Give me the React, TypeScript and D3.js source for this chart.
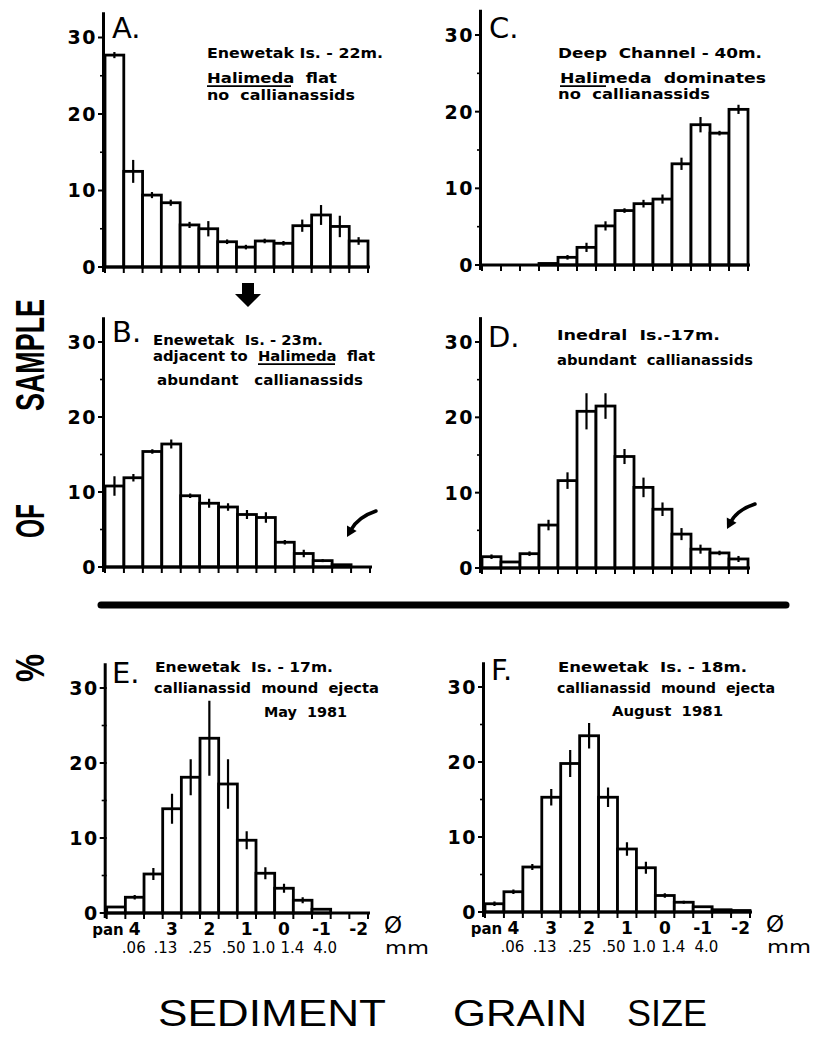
import React from "react";
import * as d3 from "d3";

// ---------- DATA ----------
const phiBins = ["pan", "4", "3.5", "3", "2.5", "2", "1.5", "1", "0.5", "0", "-0.5", "-1", "-1.5", "-2"];
const phiTickLabels = ["pan", "4", "3", "2", "1", "0", "-1", "-2"];
const mmTickLabels = [".06", ".13", ".25", ".50", "1.0", "1.4", "4.0"];
const mmTickPos = [1.45, 3.15, 5.0, 6.8, 8.4, 9.95, 11.7]; // in bin units from axis
const yMajorTicks = [0, 10, 20, 30];
const yMinorTicks = [5, 15, 25];

const valuesA = [27.7, 12.5, 9.4, 8.4, 5.5, 5.0, 3.3, 2.6, 3.4, 3.1, 5.4, 6.8, 5.3, 3.4];
const errA = [0.4, 1.5, 0.4, 0.4, 0.4, 1.0, 0.3, 0.3, 0.3, 0.3, 0.8, 1.3, 1.4, 0.5];

const valuesB = [10.8, 11.9, 15.4, 16.4, 9.5, 8.5, 8.0, 7.0, 6.6, 3.3, 1.8, 0.85, 0.3, 0];
const errB = [1.3, 0.5, 0.3, 0.6, 0.3, 0.6, 0.5, 0.6, 0.7, 0.3, 0.5, 0.2, 0, 0];

const valuesC = [0, 0, 0, 0.2, 1.0, 2.3, 5.1, 7.1, 8.0, 8.6, 13.2, 18.3, 17.2, 20.3];
const errC = [0, 0, 0, 0, 0.3, 0.6, 0.6, 0.3, 0.5, 0.6, 0.8, 1.0, 0.3, 0.6];

const valuesD = [1.5, 0.8, 1.9, 5.7, 11.6, 20.8, 21.5, 14.8, 10.7, 7.8, 4.5, 2.5, 2.0, 1.2];
const errD = [0.3, 0, 0.3, 0.7, 1.1, 2.4, 1.7, 1.0, 1.3, 0.9, 0.8, 0.6, 0.3, 0.4];

const valuesE = [0.8, 2.1, 5.2, 13.9, 18.1, 23.3, 17.2, 9.7, 5.3, 3.3, 1.7, 0.5, 0, 0];
const errE = [0, 0.3, 0.8, 2.0, 2.4, 5.0, 3.3, 1.2, 0.8, 0.6, 0.4, 0, 0, 0];

const valuesF = [1.1, 2.7, 6.0, 15.3, 19.8, 23.5, 15.3, 8.4, 5.9, 2.2, 1.3, 0.7, 0.3, 0.2];
const errF = [0.3, 0.3, 0.4, 1.1, 1.8, 1.7, 1.3, 0.9, 0.8, 0.3, 0.2, 0, 0, 0];

// ---------- LAYOUT ----------
const W = 823;
const H = 1037;
const FONT = "'DejaVu Sans', sans-serif";

type Note = { text: string; x: number; y: number; len: number; ul?: [number, number] };

const panels = [
  {
    key: "A", values: valuesA, errs: errA, x0: 105, x1: 368, y0: 267, y30: 37.5,
    letter: "A.", lx: 112, ly: 38, xlabels: false, arrow: null as null | number[],
    notes: [
      { text: "Enewetak Is. - 22m.", x: 207, y: 58, len: 176 },
      { text: "Halimeda  flat", x: 207, y: 83, len: 130, ul: [207, 291] },
      { text: "no  callianassids", x: 207, y: 100, len: 148 },
    ] as Note[],
  },
  {
    key: "C", values: valuesC, errs: errC, x0: 482, x1: 748, y0: 265, y30: 35,
    letter: "C.", lx: 489, ly: 38, xlabels: false, arrow: null,
    notes: [
      { text: "Deep  Channel - 40m.", x: 558, y: 58, len: 204 },
      { text: "Halimeda  dominates", x: 560, y: 83, len: 206, ul: [560, 606] },
      { text: "no  callianassids", x: 558, y: 99, len: 152 },
    ] as Note[],
  },
  {
    key: "B", values: valuesB, errs: errB, x0: 105, x1: 370, y0: 567, y30: 342,
    letter: "B.", lx: 112, ly: 342, xlabels: false, arrow: [376, 511, 347, 537],
    notes: [
      { text: "Enewetak  Is. - 23m.", x: 153, y: 345, len: 170 },
      { text: "adjacent to  Halimeda  flat", x: 153, y: 361, len: 222, ul: [258, 335] },
      { text: "abundant   callianassids", x: 157, y: 385, len: 206 },
    ] as Note[],
  },
  {
    key: "D", values: valuesD, errs: errD, x0: 482, x1: 748, y0: 568, y30: 342,
    letter: "D.", lx: 488, ly: 347, xlabels: false, arrow: [755, 504, 727, 529],
    notes: [
      { text: "Inedral  Is.-17m.", x: 557, y: 340, len: 163 },
      { text: "abundant  callianassids", x: 557, y: 365, len: 196 },
    ] as Note[],
  },
  {
    key: "E", values: valuesE, errs: errE, x0: 106.7, x1: 368, y0: 913, y30: 688,
    letter: "E.", lx: 112, ly: 683, xlabels: true, arrow: null,
    notes: [
      { text: "Enewetak  Is. - 17m.", x: 155, y: 672, len: 178 },
      { text: "callianassid  mound  ejecta", x: 154, y: 693, len: 225 },
      { text: "May  1981", x: 264, y: 717, len: 83 },
    ] as Note[],
  },
  {
    key: "F", values: valuesF, errs: errF, x0: 485, x1: 750, y0: 912, y30: 687,
    letter: "F.", lx: 491, ly: 680, xlabels: true, arrow: null,
    notes: [
      { text: "Enewetak  Is. - 18m.", x: 558, y: 672, len: 189 },
      { text: "callianassid  mound  ejecta", x: 557, y: 693, len: 218 },
      { text: "August  1981", x: 612, y: 716, len: 111 },
    ] as Note[],
  },
];

function CurvedArrow({ a }: { a: number[] }) {
  const [sx, sy, tx, ty] = a;
  const cx = sx - 18;
  const cy = sy + 6;
  const dx = tx - cx;
  const dy = ty - cy;
  const l = Math.hypot(dx, dy);
  const ux = dx / l;
  const uy = dy / l;
  const bx = tx - ux * 10;
  const by = ty - uy * 10;
  const px = -uy * 5.5;
  const py = ux * 5.5;
  return (
    <g>
      <path
        d={`M${sx},${sy} Q${cx},${cy} ${bx + ux * 2},${by + uy * 2}`}
        fill="none"
        stroke="#000"
        strokeWidth={3.5}
        strokeLinecap="round"
      />
      <path d={`M${tx},${ty} L${bx + px},${by + py} L${bx - px},${by - py} Z`} fill="#000" />
    </g>
  );
}

function Panel({ p }: { p: (typeof panels)[number] }) {
  const x = d3.scaleBand<string>().domain(phiBins).range([p.x0, p.x1]).paddingInner(0).paddingOuter(0);
  const y = d3.scaleLinear().domain([0, 30]).range([p.y0, p.y30]);
  const bw = x.bandwidth();
  const edges = phiBins.map((b) => x(b) as number).concat([p.x1]);
  return (
    <g>
      {p.values.map((v, i) =>
        v > 0 ? (
          <rect
            key={"b" + i}
            x={x(phiBins[i])}
            y={y(v)}
            width={bw}
            height={p.y0 - y(v)}
            fill="#fff"
            stroke="#000"
            strokeWidth={2.8}
          />
        ) : null
      )}
      {p.values.map((v, i) =>
        v > 0 && p.errs[i] > 0 ? (
          <line
            key={"e" + i}
            x1={(x(phiBins[i]) as number) + bw / 2}
            x2={(x(phiBins[i]) as number) + bw / 2}
            y1={y(v + p.errs[i])}
            y2={y(Math.max(0, v - p.errs[i]))}
            stroke="#000"
            strokeWidth={2.2}
          />
        ) : null
      )}
      <line x1={p.x0 - 2} x2={p.x1 + 2} y1={p.y0} y2={p.y0} stroke="#000" strokeWidth={3.2} />
      {edges.map((e, i) => (
        <line key={"xt" + i} x1={e} x2={e} y1={p.y0} y2={p.y0 + 6} stroke="#000" strokeWidth={2} />
      ))}
      <line x1={p.x0 - 1.5} x2={p.x0 - 1.5} y1={y(33.3)} y2={p.y0 + 5} stroke="#000" strokeWidth={3} />
      {yMajorTicks.map((t) => (
        <g key={"ym" + t}>
          <line x1={p.x0 - 7} x2={p.x0} y1={y(t)} y2={y(t)} stroke="#000" strokeWidth={2} />
          <text
            x={p.x0 - 8}
            y={y(t)}
            dy="0.36em"
            textAnchor="end"
            fontFamily={FONT}
            fontWeight="bold"
            fontSize={19}
            letterSpacing={1.5}
          >
            {t}
          </text>
        </g>
      ))}
      {yMinorTicks.map((t) => (
        <line key={"yn" + t} x1={p.x0 - 5} x2={p.x0} y1={y(t)} y2={y(t)} stroke="#000" strokeWidth={1.6} />
      ))}
      <text x={p.lx} y={p.ly} fontFamily={FONT} fontSize={29}>
        {p.letter}
      </text>
      {p.notes.map((n, i) => (
        <g key={"n" + i}>
          <text
            x={n.x}
            y={n.y}
            fontFamily={FONT}
            fontWeight="bold"
            fontSize={13.5}
            textLength={n.len}
            lengthAdjust="spacingAndGlyphs"
            style={{ whiteSpace: "pre" }}
          >
            {n.text}
          </text>
          {n.ul ? <line x1={n.ul[0]} x2={n.ul[1]} y1={n.y + 3.2} y2={n.y + 3.2} stroke="#000" strokeWidth={1.8} /> : null}
        </g>
      ))}
      {p.arrow ? <CurvedArrow a={p.arrow} /> : null}
      {p.xlabels ? (
        <g>
          {phiTickLabels.map((l) => (
            <text
              key={"pl" + l}
              x={(x(l) as number) + bw / 2 + (l === "pan" ? -8 : 0)}
              y={p.y0 + 22}
              textAnchor="middle"
              fontFamily={FONT}
              fontWeight="bold"
              fontSize={l === "pan" ? 15 : 17}
            >
              {l}
            </text>
          ))}
          {mmTickLabels.map((l, i) => (
            <text
              key={"mm" + l}
              x={p.x0 + mmTickPos[i] * bw}
              y={p.y0 + 40}
              textAnchor="middle"
              fontFamily={FONT}
              fontSize={15}
            >
              {l}
            </text>
          ))}
          <text x={p.x1 + 25} y={p.y0 + 20} textAnchor="middle" fontFamily={FONT} fontSize={23}>
            Ø
          </text>
          <text x={p.x1 + 17} y={p.y0 + 41} fontFamily={FONT} fontSize={18} textLength={44} lengthAdjust="spacingAndGlyphs">
            mm
          </text>
        </g>
      ) : null}
    </g>
  );
}

export default function App() {
  return (
    <svg
      width={W}
      height={H}
      viewBox={`0 0 ${W} ${H}`}
      style={{ display: "block", position: "absolute", left: 0, top: 0, background: "#fff" }}
    >
      <rect x={0} y={0} width={W} height={H} fill="#fff" />
      {panels.map((p) => (
        <Panel key={p.key} p={p} />
      ))}
      <path d="M242,283 L254,283 L254,294 L261,294 L248,307 L235,294 L242,294 Z" fill="#000" />
      <line x1={101} x2={786} y1={605} y2={605} stroke="#000" strokeWidth={7} strokeLinecap="round" />
      <g fontFamily="'Liberation Sans', sans-serif" fontSize={40} fontWeight="bold">
        <text transform="translate(44,355) rotate(-90)" textAnchor="middle" textLength={112} lengthAdjust="spacingAndGlyphs">
          SAMPLE
        </text>
        <text transform="translate(44,521) rotate(-90)" textAnchor="middle" textLength={34} lengthAdjust="spacingAndGlyphs">
          OF
        </text>
        <text transform="translate(44,668) rotate(-90)" textAnchor="middle" textLength={28} lengthAdjust="spacingAndGlyphs">
          %
        </text>
      </g>
      <g fontFamily="'Liberation Sans', sans-serif" fontSize={37}>
        <text x={158} y={1026} textLength={228} lengthAdjust="spacingAndGlyphs">SEDIMENT</text>
        <text x={453} y={1026} textLength={134} lengthAdjust="spacingAndGlyphs">GRAIN</text>
        <text x={627} y={1026} textLength={80} lengthAdjust="spacingAndGlyphs">SIZE</text>
      </g>
    </svg>
  );
}
